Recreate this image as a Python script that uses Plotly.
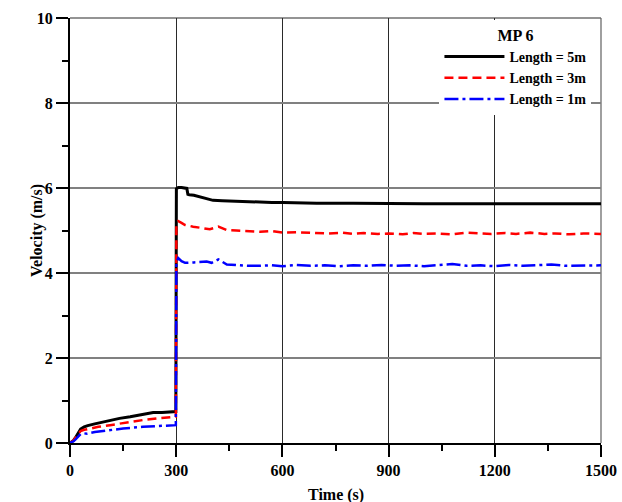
import plotly.graph_objects as go

# ---- data ----
t_5m = [0, 5, 10, 15, 20, 25, 30, 40, 50, 70, 90, 113, 140, 170, 198, 235, 260, 280, 299,
        300.5, 306, 315, 330, 333, 337, 350, 367, 385, 404, 430, 460, 489, 530, 570, 602,
        650, 697, 800, 900, 1000, 1100, 1200, 1300, 1400, 1500]
v_5m = [0, 0.03, 0.06, 0.12, 0.2, 0.28, 0.33, 0.38, 0.41, 0.45, 0.49, 0.54, 0.58, 0.62, 0.67,
        0.72, 0.72, 0.73, 0.74,
        5.98, 6.01, 6.01, 5.99, 5.85, 5.84, 5.83, 5.79, 5.75, 5.71, 5.70, 5.69, 5.68, 5.67,
        5.66, 5.66, 5.65, 5.64, 5.64, 5.63, 5.63, 5.63, 5.63, 5.63, 5.63, 5.63]

t_3m = [0, 5, 10, 15, 20, 25, 30, 40, 60, 80, 113, 150, 206, 250, 280, 299,
        300.5, 306, 315, 325, 348, 370, 395, 419, 443, 470, 500, 537, 570, 600, 640, 697,
        730, 770, 800, 830, 870, 900, 940, 970, 1000, 1040, 1080, 1120, 1150, 1190, 1230,
        1260, 1300, 1340, 1370, 1410, 1450, 1480, 1500]
v_3m = [0, 0.03, 0.06, 0.12, 0.18, 0.24, 0.28, 0.31, 0.35, 0.38, 0.42, 0.47, 0.54, 0.58,
        0.6, 0.62,
        5.15, 5.22, 5.18, 5.13, 5.09, 5.06, 5.03, 5.09, 5.01, 5.0, 4.98, 4.97, 4.99, 4.95,
        4.96, 4.95, 4.93, 4.95, 4.92, 4.94, 4.92, 4.93, 4.91, 4.94, 4.92, 4.93, 4.91, 4.95,
        4.93, 4.92, 4.94, 4.92, 4.95, 4.92, 4.93, 4.91, 4.93, 4.92, 4.92]

t_1m = [0, 5, 10, 15, 20, 25, 30, 37, 48, 70, 90, 113, 150, 206, 250, 280, 299,
        300.5, 306, 315, 325, 350, 370, 386, 400, 419, 443, 470, 500, 537, 570, 600, 640,
        680, 720, 760, 800, 840, 880, 920, 960, 1000, 1040, 1080, 1120, 1160, 1200, 1240,
        1280, 1320, 1360, 1400, 1440, 1480, 1500]
v_1m = [0, 0.02, 0.04, 0.08, 0.12, 0.17, 0.21, 0.23, 0.22, 0.26, 0.28, 0.31, 0.34, 0.38,
        0.4, 0.41, 0.42,
        4.25, 4.35, 4.28, 4.24, 4.25, 4.26, 4.27, 4.24, 4.32, 4.2, 4.18, 4.17, 4.17, 4.18,
        4.16, 4.19, 4.17, 4.18, 4.16, 4.18, 4.17, 4.19, 4.17, 4.18, 4.16, 4.18, 4.21, 4.17,
        4.18, 4.16, 4.19, 4.17, 4.18, 4.2, 4.17, 4.18, 4.19, 4.18]

x_ticks = [0, 300, 600, 900, 1200, 1500]
y_ticks = [0, 2, 4, 6, 8, 10]
legend_title = "MP 6"
names = ["Length = 5m", "Length = 3m", "Length = 1m"]
x_title = "Time (s)"
y_title = "Velocity (m/s)"

FONT = "Liberation Serif, Times New Roman, serif"

fig = go.Figure()
fig.add_trace(go.Scatter(x=t_5m, y=v_5m, mode="lines", name=names[0],
                         line=dict(color="black", width=3)))
fig.add_trace(go.Scatter(x=t_3m, y=v_3m, mode="lines", name=names[1],
                         line=dict(color="#ff0000", width=2.5, dash="9px,5px")))
fig.add_trace(go.Scatter(x=t_1m, y=v_1m, mode="lines", name=names[2],
                         line=dict(color="#0000ff", width=2.5, dash="14px,4px,3px,4px")))

fig.update_layout(
    width=622, height=502,
    margin=dict(l=70, r=21, t=18, b=59, autoexpand=False),
    paper_bgcolor="white", plot_bgcolor="white",
    font=dict(family=FONT, size=16, color="black"),
    showlegend=True,
    legend=dict(
        x=0.982, xanchor="right", y=0.995, yanchor="top",
        bgcolor="white", borderwidth=0,
        font=dict(family=FONT, size=14, color="black", weight="bold"),
        title=dict(text="<b>" + legend_title + "</b>", side="top center",
                   font=dict(family=FONT, size=16, color="black")),
        itemwidth=60, tracegroupgap=0,
    ),
)

fig.update_xaxes(
    range=[0, 1500], tickvals=x_ticks, ticktext=[str(v) for v in x_ticks],
    automargin=False,
    showgrid=True, gridcolor="#2a2a2a", gridwidth=1.2,
    showline=True, linecolor="black", linewidth=2, zeroline=False,
    ticks="outside", ticklen=12, tickwidth=2, tickcolor="black",
    minor=dict(dtick=150, tick0=0, ticks="outside", ticklen=6, tickwidth=2,
               tickcolor="black", showgrid=False),
    tickfont=dict(family=FONT, size=16, color="black", weight="bold"),
)
fig.update_yaxes(
    range=[0, 10], tickvals=y_ticks, ticktext=[str(v) for v in y_ticks],
    automargin=False,
    showgrid=True, gridcolor="#808080", gridwidth=2,
    showline=True, linecolor="black", linewidth=2, zeroline=False,
    ticks="outside", ticklen=12, tickwidth=2, tickcolor="black",
    minor=dict(dtick=1, tick0=0, ticks="outside", ticklen=6, tickwidth=2,
               tickcolor="black", showgrid=False),
    tickfont=dict(family=FONT, size=16, color="black", weight="bold"),
)

# axis titles
fig.add_annotation(text="<b>" + x_title + "</b>", xref="paper", yref="paper",
                   x=0.5, y=-0.122, xanchor="center", yanchor="middle", showarrow=False,
                   font=dict(family=FONT, size=16, color="black"))
fig.add_annotation(text="<b>" + y_title + "</b>", xref="paper", yref="paper",
                   x=-0.063, y=0.5, xanchor="center", yanchor="middle", showarrow=False,
                   textangle=-90, font=dict(family=FONT, size=16, color="black"))

# frame lines on top and right
fig.add_shape(type="line", xref="paper", yref="paper", x0=0, x1=1, y0=1, y1=1,
              line=dict(color="#707070", width=1.5), layer="below")
fig.add_shape(type="line", xref="paper", yref="paper", x0=1, x1=1, y0=0, y1=1,
              line=dict(color="#606060", width=1.2), layer="below")

fig.write_html("out.html")
